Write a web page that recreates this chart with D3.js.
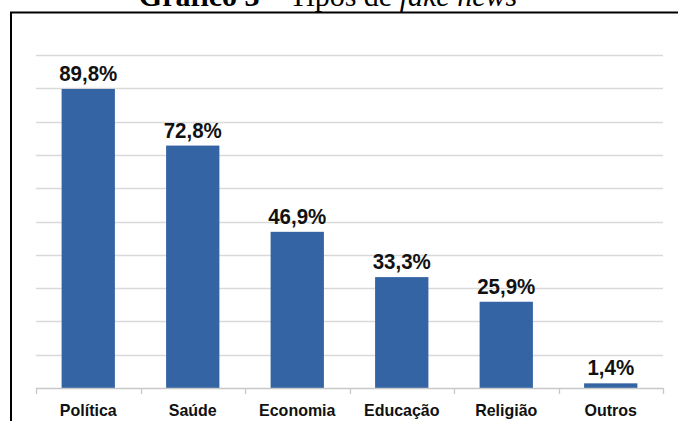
<!DOCTYPE html>
<html>
<head>
<meta charset="utf-8">
<script src="https://cdn.jsdelivr.net/npm/d3@7/dist/d3.min.js"></script>
<style>
  html, body { margin: 0; padding: 0; background: #fff; }
  svg { display: block; }
</style>
</head>
<body>
<svg id="chart" width="678" height="421"></svg>
<script>
const categories = ["Política", "Saúde", "Economia", "Educação", "Religião", "Outros"];
const values = [89.8, 72.8, 46.9, 33.3, 25.9, 1.4];
const valueLabels = ["89,8%", "72,8%", "46,9%", "33,3%", "25,9%", "1,4%"];
const yTicks = [0, 10, 20, 30, 40, 50, 60, 70, 80, 90, 100];

const svg = d3.select("#chart");
const W = 678, H = 421;
const plot = { left: 36, right: 663, top: 55, bottom: 388 };

// Title (partially cut off at the top, as in the reference)
const title = svg.append("text")
  .attr("x", 328).attr("y", 6)
  .attr("text-anchor", "middle")
  .attr("font-family", "Liberation Serif, 'Times New Roman', serif")
  .attr("font-size", 30)
  .attr("fill", "#000");
title.append("tspan").attr("font-weight", "bold").text("Gráfico 3");
title.append("tspan").text(" – Tipos de ");
title.append("tspan").attr("font-style", "italic").text("fake news");

// Frame
svg.append("path")
  .attr("d", `M11,${H + 5} L11,12.5 L${W + 5},12.5`)
  .attr("fill", "none")
  .attr("stroke", "#000")
  .attr("stroke-width", 2);

const x = d3.scaleBand()
  .domain(categories)
  .range([plot.left, plot.right])
  .paddingInner(0.49)
  .paddingOuter(0.245);

const xOuter = d3.scaleBand()
  .domain(categories)
  .range([plot.left, plot.right]);

const y = d3.scaleLinear()
  .domain([0, 100])
  .range([plot.bottom, plot.top]);

// Gridlines
svg.append("g")
  .selectAll("line")
  .data(yTicks.filter(d => d > 0))
  .join("line")
  .attr("x1", plot.left).attr("x2", plot.right)
  .attr("y1", d => Math.round(y(d)) + 0.5)
  .attr("y2", d => Math.round(y(d)) + 0.5)
  .attr("stroke", "#d9d9d9")
  .attr("stroke-width", 1.3);

// Bars
svg.append("g")
  .selectAll("rect")
  .data(values)
  .join("rect")
  .attr("x", (d, i) => x(categories[i]))
  .attr("width", x.bandwidth())
  .attr("y", d => y(d))
  .attr("height", d => y(0) - y(d))
  .attr("fill", "#3464a4");

// X axis baseline and ticks
const boundaries = categories.map(c => xOuter(c)).concat([plot.right]);
svg.append("line")
  .attr("x1", plot.left).attr("x2", plot.right)
  .attr("y1", plot.bottom + 0.5).attr("y2", plot.bottom + 0.5)
  .attr("stroke", "#c8c8c8").attr("stroke-width", 1.3);
svg.append("g")
  .selectAll("line")
  .data(boundaries)
  .join("line")
  .attr("x1", d => Math.round(d) + 0.5).attr("x2", d => Math.round(d) + 0.5)
  .attr("y1", plot.bottom).attr("y2", plot.bottom + 6)
  .attr("stroke", "#c8c8c8").attr("stroke-width", 1.3);

// Category labels
svg.append("g")
  .selectAll("text")
  .data(categories)
  .join("text")
  .attr("transform", d => `translate(${xOuter(d) + xOuter.bandwidth() / 2},416) scale(1,1.05)`)
  .attr("text-anchor", "middle")
  .attr("font-family", "Liberation Sans, Arial, sans-serif")
  .attr("font-weight", "bold")
  .attr("font-size", 16)
  .attr("fill", "#111")
  .text(d => d);

// Value labels
svg.append("g")
  .selectAll("text")
  .data(values)
  .join("text")
  .attr("transform", (d, i) => `translate(${xOuter(categories[i]) + xOuter.bandwidth() / 2},${y(d) - 8}) scale(1,1.1)`)
  .attr("text-anchor", "middle")
  .attr("font-family", "Liberation Sans, Arial, sans-serif")
  .attr("font-weight", "bold")
  .attr("font-size", 20.5)
  .attr("fill", "#111")
  .text((d, i) => valueLabels[i]);
</script>
</body>
</html>
